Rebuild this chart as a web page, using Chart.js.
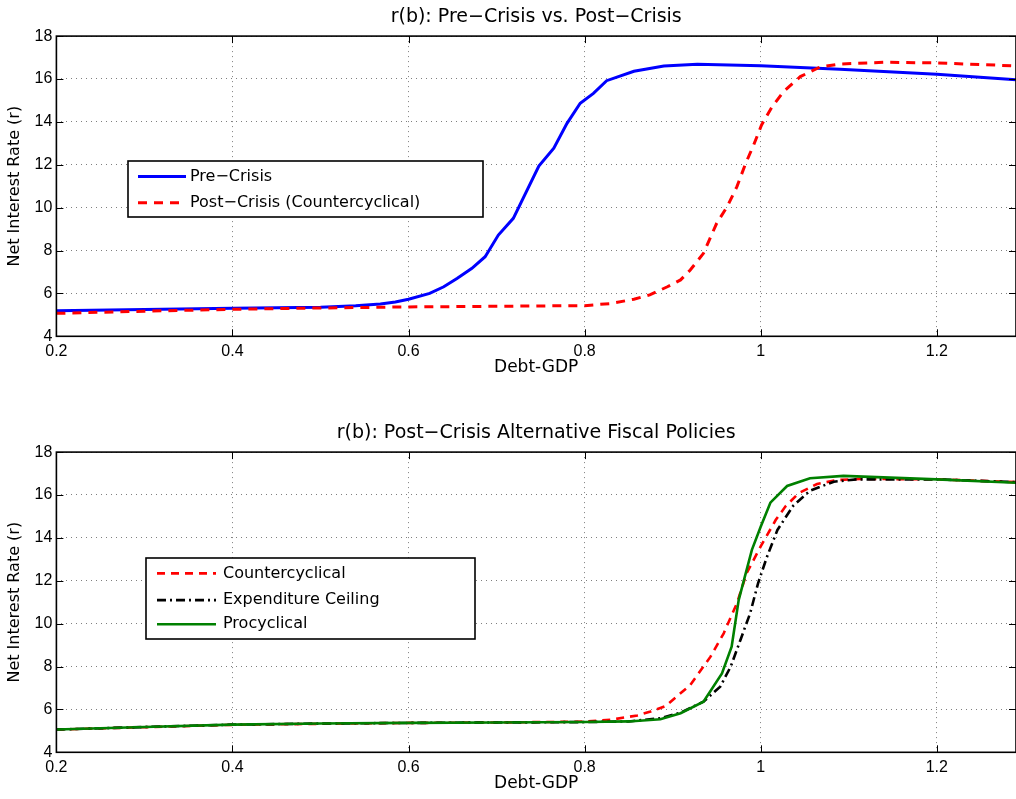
<!DOCTYPE html>
<html>
<head>
<meta charset="utf-8">
<script src="https://cdn.jsdelivr.net/npm/chart.js@4.4.0/dist/chart.umd.min.js"></script>
<style>
  html, body { margin: 0; padding: 0; background: #fff; }
  body { width: 1016px; height: 799px; position: relative; overflow: hidden; }
  .panel { position: absolute; left: 0; width: 1016px; height: 383px; }
  #top { top: 0; }
  #bottom { top: 416px; }
</style>
</head>
<body>
<div class="panel" id="top"><canvas id="chartTop"></canvas></div>
<div class="panel" id="bottom"><canvas id="chartBottom"></canvas></div>
<script>
// tick values
const xTicks = [0.2, 0.4, 0.6, 0.8, 1.0, 1.2];
const yTicks = [4, 6, 8, 10, 12, 14, 16, 18];

// top panel: pre-crisis vs post-crisis
const preX = [0.2, 0.3, 0.4, 0.5, 0.54, 0.568, 0.585, 0.6, 0.624, 0.64, 0.655, 0.672, 0.687, 0.702, 0.719, 0.748, 0.765, 0.78, 0.795, 0.81, 0.825, 0.856, 0.89, 0.928, 1.0, 1.09, 1.2, 1.29];
const preY = [5.19, 5.25, 5.31, 5.35, 5.42, 5.51, 5.6, 5.73, 6.0, 6.31, 6.7, 7.17, 7.71, 8.72, 9.5, 11.94, 12.77, 13.93, 14.87, 15.33, 15.92, 16.36, 16.61, 16.69, 16.62, 16.45, 16.22, 15.96];

const postX = [0.2, 0.3, 0.4, 0.5, 0.6, 0.7, 0.8, 0.83, 0.856, 0.874, 0.894, 0.909, 0.92, 0.935, 0.95, 0.962, 0.973, 0.983, 0.992, 1.001, 1.013, 1.026, 1.045, 1.068, 1.09, 1.14, 1.2, 1.29];
const postY = [5.07, 5.17, 5.26, 5.32, 5.37, 5.4, 5.43, 5.53, 5.73, 5.93, 6.31, 6.63, 7.09, 7.87, 9.27, 10.05, 10.98, 12.07, 12.92, 13.86, 14.71, 15.41, 16.11, 16.57, 16.7, 16.78, 16.75, 16.61];

// bottom panel: alternative fiscal policies
const counterX = [0.2, 0.3, 0.4, 0.5, 0.6, 0.7, 0.8, 0.83, 0.86, 0.875, 0.892, 0.92, 0.943, 0.958, 0.973, 0.984, 1.0, 1.017, 1.028, 1.043, 1.064, 1.087, 1.113, 1.2, 1.29];
const counterY = [5.06, 5.17, 5.28, 5.33, 5.37, 5.39, 5.43, 5.52, 5.72, 5.9, 6.16, 7.14, 8.46, 9.55, 10.95, 12.35, 13.6, 14.83, 15.46, 16.08, 16.51, 16.7, 16.75, 16.73, 16.6];

const ceilX = [0.2, 0.3, 0.4, 0.5, 0.6, 0.7, 0.8, 0.85, 0.886, 0.909, 0.935, 0.954, 0.966, 0.977, 0.988, 0.997, 1.007, 1.019, 1.037, 1.056, 1.083, 1.109, 1.2, 1.29];
const ceilY = [5.06, 5.18, 5.29, 5.34, 5.37, 5.39, 5.41, 5.44, 5.59, 5.85, 6.36, 7.06, 8.0, 9.24, 10.48, 11.88, 13.1, 14.37, 15.5, 16.2, 16.62, 16.73, 16.73, 16.6];

const procX = [0.2, 0.3, 0.4, 0.5, 0.6, 0.7, 0.8, 0.85, 0.886, 0.909, 0.935, 0.956, 0.967, 0.975, 0.982, 0.99, 1.0, 1.011, 1.03, 1.056, 1.094, 1.2, 1.29];
const procY = [5.06, 5.18, 5.29, 5.34, 5.37, 5.39, 5.41, 5.44, 5.54, 5.82, 6.36, 7.68, 8.93, 11.1, 12.19, 13.44, 14.52, 15.64, 16.42, 16.78, 16.89, 16.73, 16.57];

function pts(xs, ys) {
  return xs.map((x, i) => ({ x: x, y: ys[i] }));
}

// matlab style box with inward ticks
const framePlugin = {
  id: "frame",
  afterDraw(chart) {
    const { ctx, chartArea: a, scales } = chart;
    ctx.save();
    ctx.strokeStyle = "#000";
    ctx.lineWidth = 1;
    ctx.beginPath();
    scales.x.ticks.forEach((t) => {
      const px = Math.round(scales.x.getPixelForValue(t.value)) + 0.5;
      ctx.moveTo(px, a.bottom); ctx.lineTo(px, a.bottom - 7);
      ctx.moveTo(px, a.top); ctx.lineTo(px, a.top + 7);
    });
    scales.y.ticks.forEach((t) => {
      const py = Math.round(scales.y.getPixelForValue(t.value)) + 0.5;
      ctx.moveTo(a.left, py); ctx.lineTo(a.left + 7, py);
      ctx.moveTo(a.right, py); ctx.lineTo(a.right - 7, py);
    });
    ctx.stroke();
    ctx.lineWidth = 1.6;
    ctx.strokeRect(a.left, a.top, a.width, a.height);
    ctx.restore();
  },
};

// legend drawn inside the axes like matlab
const boxLegend = {
  id: "boxLegend",
  afterDraw(chart, args, opts) {
    const { ctx } = chart;
    const b = opts.box;
    ctx.save();
    ctx.fillStyle = "#fff";
    ctx.fillRect(b.x, b.y, b.w, b.h);
    ctx.strokeStyle = "#000";
    ctx.lineWidth = 1.6;
    ctx.strokeRect(b.x, b.y, b.w, b.h);
    ctx.font = "16px 'DejaVu Sans'";
    ctx.textBaseline = "middle";
    ctx.textAlign = "left";
    chart.data.datasets.forEach((ds, i) => {
      const y = opts.rows[i];
      ctx.strokeStyle = ds.borderColor;
      ctx.lineWidth = ds.borderWidth;
      ctx.setLineDash(ds.borderDash || []);
      ctx.beginPath();
      ctx.moveTo(opts.lineX[0], y);
      ctx.lineTo(opts.lineX[1], y);
      ctx.stroke();
      ctx.setLineDash([]);
      ctx.fillStyle = "#000";
      ctx.fillText(ds.label, opts.textX, y);
    });
    ctx.restore();
  },
};

function makeOptions(title, legendOpts) {
  return {
    responsive: true,
    maintainAspectRatio: false,
    animation: false,
    layout: { padding: 0 },
    elements: { point: { radius: 0 }, line: { tension: 0 } },
    plugins: {
      legend: { display: false },
      tooltip: { enabled: false },
      title: {
        display: true,
        text: title,
        fullSize: false,
        color: "#000",
        font: { family: "DejaVu Sans", size: 19, weight: "normal" },
        padding: { top: 6, bottom: 7.3 },
      },
      boxLegend: legendOpts,
    },
    scales: {
      x: {
        type: "linear",
        min: 0.2,
        max: 1.29,
        afterBuildTicks: (s) => { s.ticks = xTicks.map((v) => ({ value: v })); },
        afterFit: (s) => { s.height = 46.7; },
        grid: { color: "rgba(0,0,0,0.5)", lineWidth: 1, drawTicks: false },
        border: { display: false, dash: [1, 4] },
        ticks: {
          color: "#000",
          padding: 6,
          font: { family: "Liberation Sans", size: 16 },
          maxRotation: 0,
          callback: (v) => String(Math.round(v * 10) / 10),
        },
        title: {
          display: true,
          text: "Debt-GDP",
          color: "#000",
          font: { family: "DejaVu Sans", size: 17 },
          padding: { top: 0, bottom: 5 },
        },
      },
      y: {
        min: 4,
        max: 18,
        afterBuildTicks: (s) => { s.ticks = yTicks.map((v) => ({ value: v })); },
        afterFit: (s) => { s.width = 56.4; },
        grid: { color: "rgba(0,0,0,0.5)", lineWidth: 1, drawTicks: false },
        border: { display: false, dash: [1, 4] },
        ticks: {
          color: "#000",
          padding: 4,
          font: { family: "Liberation Sans", size: 16 },
          callback: (v) => String(v),
        },
        title: {
          display: true,
          text: "Net Interest Rate (r)",
          color: "#000",
          font: { family: "DejaVu Sans", size: 16 },
          padding: { top: 5, bottom: 0 },
        },
      },
    },
  };
}

new Chart(document.getElementById("chartTop").getContext("2d"), {
  type: "line",
  data: {
    datasets: [
      {
        label: "Pre\u2212Crisis",
        data: pts(preX, preY),
        borderColor: "#0000ff",
        borderWidth: 3,
        fill: false,
        order: 2,
      },
      {
        label: "Post\u2212Crisis (Countercyclical)",
        data: pts(postX, postY),
        borderColor: "#ff0000",
        borderWidth: 3,
        borderDash: [9, 7],
        fill: false,
        order: 1,
      },
    ],
  },
  options: makeOptions("r(b): Pre\u2212Crisis vs. Post\u2212Crisis", {
    box: { x: 128, y: 161, w: 355, h: 56 },
    rows: [176.6, 202.7],
    lineX: [138, 186],
    textX: 190,
  }),
  plugins: [framePlugin, boxLegend],
});

new Chart(document.getElementById("chartBottom").getContext("2d"), {
  type: "line",
  data: {
    datasets: [
      {
        label: "Countercyclical",
        data: pts(counterX, counterY),
        borderColor: "#ff0000",
        borderWidth: 2.6,
        borderDash: [8, 6],
        fill: false,
        order: 3,
      },
      {
        label: "Expenditure Ceiling",
        data: pts(ceilX, ceilY),
        borderColor: "#000000",
        borderWidth: 2.6,
        borderDash: [9, 4, 2, 4],
        fill: false,
        order: 2,
      },
      {
        label: "Procyclical",
        data: pts(procX, procY),
        borderColor: "#008000",
        borderWidth: 2.6,
        fill: false,
        order: 1,
      },
    ],
  },
  options: makeOptions("r(b): Post\u2212Crisis Alternative Fiscal Policies", {
    box: { x: 146, y: 142, w: 329, h: 81 },
    rows: [157.4, 184.1, 208.2],
    lineX: [157, 216],
    textX: 223,
  }),
  plugins: [framePlugin, boxLegend],
});
</script>
</body>
</html>
